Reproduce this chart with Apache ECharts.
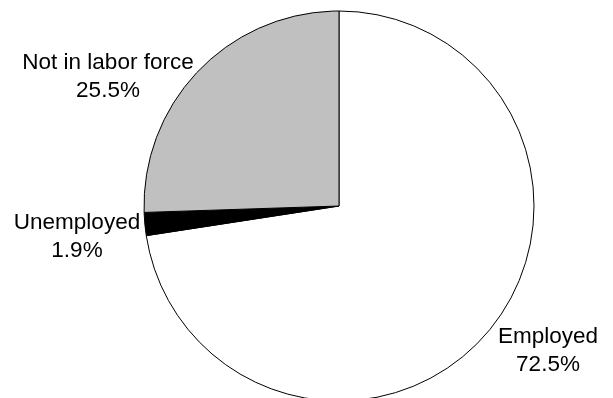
<!DOCTYPE html>
<html lang="en">
	<head>
		<meta charset="utf-8">
		<title>Labor force status</title>
		<style>
			html, body { margin: 0; padding: 0; background: #fff; }
			#chart { width: 613px; height: 398px; }
		</style>
	</head>
	<body>
		<div id="chart"></div>
		<script src="https://cdn.jsdelivr.net/npm/echarts@6/dist/echarts.min.js"></script>
		<script>
			// data
			var categories = ['Employed', 'Unemployed', 'Not in labor force'];
			var values = [72.5, 1.9, 25.5];
			var colors = ['#ffffff', '#000000', '#c0c0c0'];
			// where each label sits (centre of text block)
			var labelPos = [[548, 351], [77, 237], [108, 77]];

			var myChart = echarts.init(document.getElementById('chart'));

			var pieData = categories.map(function (name, i) {
				return { name: name, value: values[i], itemStyle: { color: colors[i] } };
			});

			var option = {
				backgroundColor: '#fff',
				animation: false,
				series: [{
					type: 'pie',
					center: [339, 206],
					radius: [0, 195],
					startAngle: 90,
					clockwise: true,
					data: pieData,
					itemStyle: { borderColor: '#000', borderWidth: 1 },
					label: {
						show: true,
						position: 'outside',
						formatter: function (p) { return p.name + '\n' + p.value.toFixed(1) + '%'; },
						fontFamily: 'Liberation Sans, Arial, sans-serif',
						fontSize: 22.5,
						lineHeight: 28,
						color: '#000',
						align: 'center',
						overflow: 'none',
						width: 240
					},
					labelLine: { show: false },
					labelLayout: function (params) {
						var pos = labelPos[params.dataIndex];
						return { x: pos[0], y: pos[1], align: 'center', verticalAlign: 'middle' };
					},
					emphasis: { disabled: true }
				}]
			};
			myChart.setOption(option);
		</script>
	</body>
</html>
